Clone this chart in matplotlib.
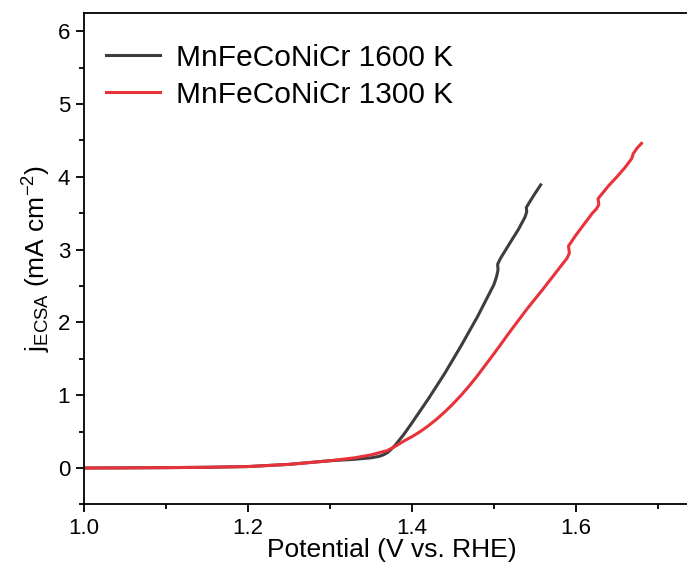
import matplotlib.pyplot as plt
from matplotlib.ticker import MultipleLocator

plt.rcParams['font.family'] = ['Liberation Sans', 'DejaVu Sans']
plt.rcParams['mathtext.fontset'] = 'custom'
plt.rcParams['mathtext.rm'] = 'Liberation Sans'
plt.rcParams['mathtext.it'] = 'Liberation Sans:italic'

# MnFeCoNiCr 1600 K
v_1600 = [1.00, 1.05, 1.10, 1.15, 1.20, 1.25, 1.30, 1.33, 1.35, 1.36, 1.365, 1.37, 1.375,
          1.38, 1.39, 1.40, 1.42, 1.44, 1.46, 1.48, 1.49, 1.50, 1.503, 1.505, 1.5045, 1.508,
          1.52, 1.53, 1.538, 1.540, 1.5395, 1.545, 1.55, 1.557]
j_1600 = [0.0, 0.002, 0.005, 0.01, 0.02, 0.05, 0.10, 0.12, 0.14, 0.16, 0.18, 0.21, 0.26,
          0.32, 0.46, 0.62, 0.95, 1.30, 1.68, 2.08, 2.30, 2.52, 2.62, 2.72, 2.80, 2.88,
          3.10, 3.28, 3.45, 3.52, 3.58, 3.68, 3.77, 3.89]

# MnFeCoNiCr 1300 K
v_1300 = [1.00, 1.05, 1.10, 1.15, 1.20, 1.25, 1.30, 1.33, 1.35, 1.37, 1.38, 1.39, 1.40,
          1.41, 1.42, 1.43, 1.44, 1.45, 1.46, 1.47, 1.48, 1.49, 1.50, 1.52, 1.54, 1.56,
          1.58, 1.589, 1.592, 1.591, 1.60, 1.61, 1.62, 1.625, 1.628, 1.627, 1.64, 1.65,
          1.66, 1.668, 1.670, 1.675, 1.680]
j_1300 = [0.0, 0.002, 0.005, 0.01, 0.02, 0.05, 0.10, 0.14, 0.18, 0.24, 0.30, 0.37, 0.43,
          0.50, 0.58, 0.67, 0.77, 0.88, 1.00, 1.13, 1.27, 1.42, 1.57, 1.88, 2.18, 2.46,
          2.75, 2.88, 2.95, 3.05, 3.20, 3.35, 3.50, 3.56, 3.62, 3.70, 3.88, 4.00,
          4.13, 4.25, 4.32, 4.40, 4.46]

fig = plt.figure(figsize=(6.87, 5.76), dpi=100)
ax = fig.add_axes([0.1223, 0.1243, 0.895, 0.853])

ax.plot(v_1600, j_1600, color='#3d3d3d', lw=2.2, label='MnFeCoNiCr 1600 K')
ax.plot(v_1300, j_1300, color='#e8323a', lw=2.2, label='MnFeCoNiCr 1300 K')

ax.set_xlim(1.0, 1.75)
ax.set_ylim(-0.5, 6.25)
ax.xaxis.set_major_locator(MultipleLocator(0.2))
ax.xaxis.set_minor_locator(MultipleLocator(0.1))
ax.yaxis.set_major_locator(MultipleLocator(1))
ax.yaxis.set_minor_locator(MultipleLocator(0.5))
ax.tick_params(which='major', direction='out', length=6, width=1.3, labelsize=16, pad=4)
ax.tick_params(which='minor', direction='out', length=3.5, width=1.3)
for s in ax.spines.values():
    s.set_linewidth(1.3)

ax.set_xlabel('Potential (V vs. RHE)', fontsize=19, labelpad=-1)
ax.set_ylabel(r'$\mathregular{j_{ECSA}}$ (mA cm$^{\mathregular{-2}}$)', fontsize=19, labelpad=3)

ax.legend(loc='upper left', frameon=False, fontsize=21.5, handlelength=1.8,
          handletextpad=0.55, labelspacing=0.3, borderaxespad=0.6,
          bbox_to_anchor=(-0.013, 0.998))

fig.savefig('out.png', dpi=100)
